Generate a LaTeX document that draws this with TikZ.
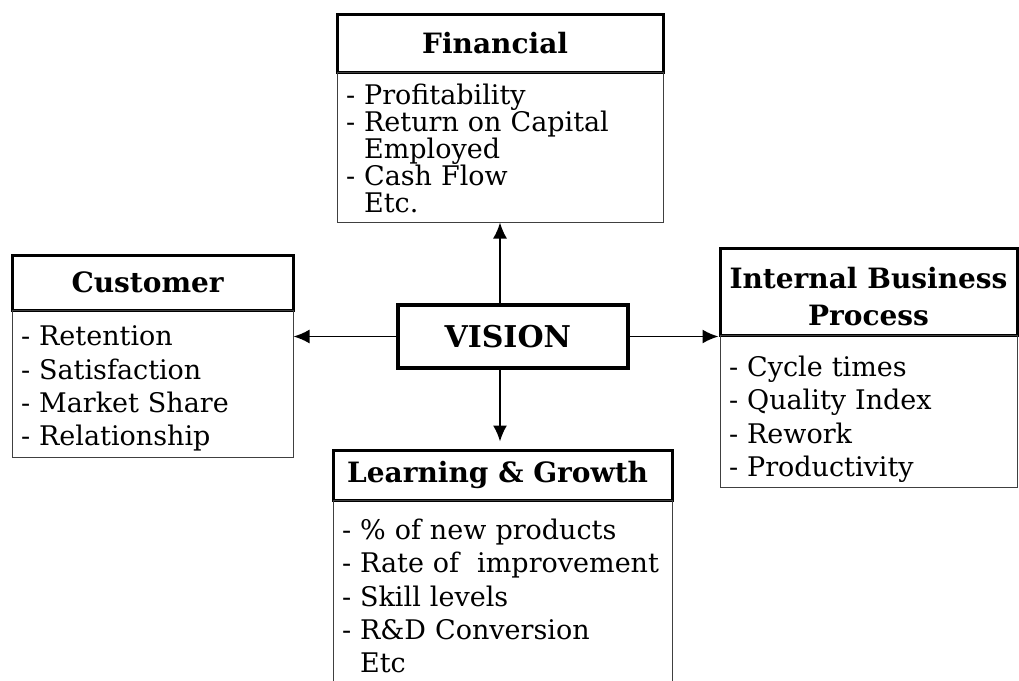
\documentclass[tikz,border=0pt]{standalone}
\usepackage{fontspec}
\setmainfont{DejaVu Serif}
\usetikzlibrary{arrows.meta}

\tikzset{
  headbox/.style={draw, line width=3pt, inner sep=0pt, align=center,
    font=\fontsize{28}{37}\selectfont\bfseries},
  listbox/.style={draw=black!75, line width=1pt, inner xsep=9pt, inner ysep=0pt,
    align=left, font=\fontsize{27}{33.3}\selectfont},
  link/.style={-{Latex[length=16pt,width=14pt]}, line width=1.8pt}
}

\begin{document}
\begin{tikzpicture}[x=1pt,y=-1pt]
  \clip (0,0) rectangle (1019,680);
  \fill[white] (0,0) rectangle (1019,680);

  \node [headbox, minimum width=326pt, minimum height=58pt] (fhead) at (500,43) { Financial };
  \node [listbox, minimum height=150pt, text width=308pt, font=\fontsize{27}{27}\selectfont] (fbody) at (500,147)
    { \rule{0pt}{23pt}- Profitability\\ - Return on Capital\\ \hphantom{- }Employed\\ - Cash Flow\\ \hphantom{- }Etc. };

  \node [headbox, minimum width=281pt, minimum height=55pt] (chead) at (152.5,282.5) { Customer };
  \node [listbox, minimum height=147pt, text width=263pt] (cbody) at (152.5,383.5)
    { \rule{0pt}{30pt}- Retention\\ - Satisfaction\\ - Market Share\\ - Relationship };

  \node [headbox, line width=4pt, minimum width=230pt, minimum height=63pt,
    font=\fontsize{30}{34}\selectfont\bfseries] (vision) at (513,336.5) { VISION };

  \node [headbox, minimum width=297pt, minimum height=87pt] (ihead) at (868.5,291.5)
    { \rule{0pt}{31pt}Internal Business\\ Process };
  \node [listbox, minimum height=152pt, text width=279pt] (ibody) at (868.5,411)
    { \rule{0pt}{37pt}- Cycle times\\ - Quality Index\\ - Rework\\ - Productivity };

  \node [headbox, minimum width=339pt, minimum height=50pt] (lhead) at (502.5,475) { Learning \& Growth };
  \node [listbox, minimum height=192pt, text width=321pt] (lbody) at (502.5,596)
    { - \% of new products\\ - Rate of\ \ improvement\\ - Skill levels\\ - R\&D Conversion\\ \hphantom{- }Etc };

  \draw [link] (vision.north -| fbody.south) -- (fbody.south);
  \draw [link, shorten >=7pt] (vision.south -| fbody.south) -- (lhead.north -| fbody.south);
  \draw [link] (vision.west) -- (vision.west -| cbody.east);
  \draw [link] (vision.east) -- (vision.east -| ihead.south west);
\end{tikzpicture}
\end{document}
